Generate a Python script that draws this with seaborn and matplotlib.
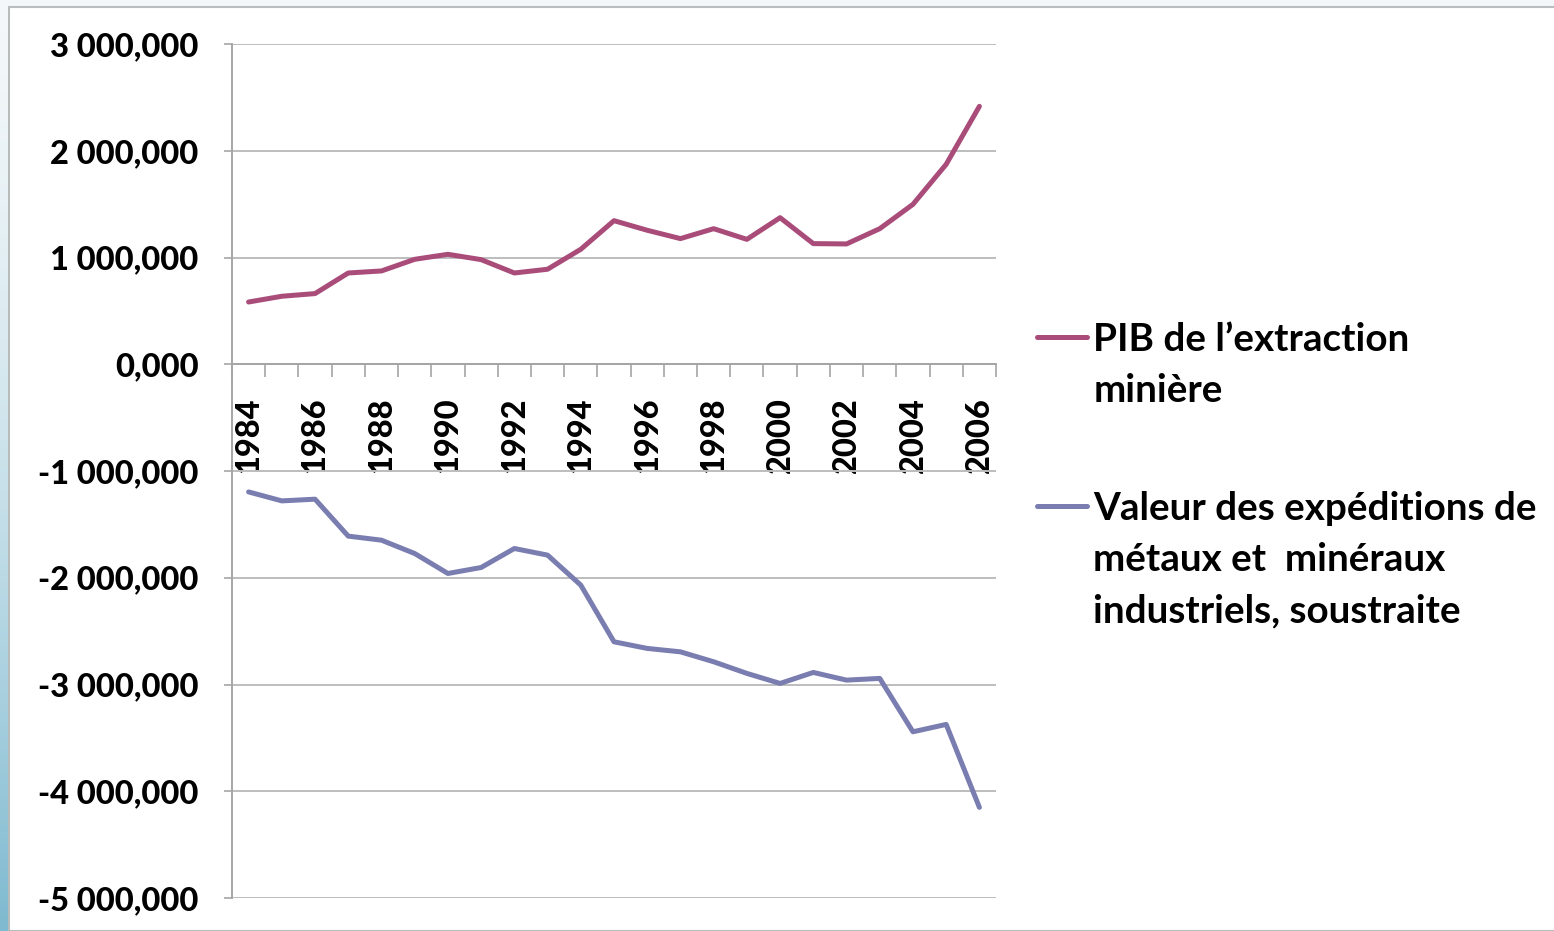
import numpy as np
import pandas as pd
import seaborn as sns
import matplotlib.pyplot as plt
from matplotlib.lines import Line2D
from matplotlib.patches import Rectangle
from matplotlib.ticker import FuncFormatter, MultipleLocator

sns.set_theme(style="white")
plt.rcParams['font.family'] = ['Lato', 'DejaVu Sans']
plt.rcParams['font.weight'] = 'bold'
plt.rcParams['text.color'] = 'black'

# data (values in thousands, French number format)
years = list(range(1984, 2007))
pib = [583, 637, 662, 855, 874, 983, 1030, 980, 855, 890, 1077, 1345,
       1255, 1177, 1270, 1170, 1373, 1130, 1127, 1270, 1498, 1873, 2416]
expeditions = [-1196, -1280, -1264, -1610, -1648, -1773, -1960, -1904, -1726,
               -1788, -2069, -2600, -2662, -2694, -2787, -2896, -2990, -2887,
               -2959, -2943, -3443, -3374, -4151]
label_pib = "PIB de l\u2019extraction\nminière"
label_exp = "Valeur des expéditions de\nmétaux et  minéraux\nindustriels, soustraite"
colors = ["#A94C7A", "#7A7DB0"]

df = pd.DataFrame({
    "annee": years * 2,
    "valeur": pib + expeditions,
    "serie": ["pib"] * len(years) + ["exp"] * len(years),
})

fig = plt.figure(figsize=(15.54, 9.31), dpi=100)
fig.patch.set_facecolor("#f3f7f9")
# slide background: white panel with thin border, gradient strip on left
fig.patches.append(Rectangle((9 / 1554, 0), 1.0, 1 - 7 / 931, transform=fig.transFigure,
                             facecolor="white", edgecolor="#b9bcbd", linewidth=1.5, zorder=-5))
strip = fig.add_axes([0, 0, 8 / 1554, 1 - 7 / 931])
grad = np.linspace(0, 1, 256).reshape(-1, 1) ** 1.5
strip.imshow(grad, aspect="auto", cmap=sns.blend_palette(["#f3f7f9", "#7fbad0"], as_cmap=True))
strip.axis("off")

ax = fig.add_axes([232 / 1554, 1 - 898 / 931, 764 / 1554, 854 / 931])
ax.set_facecolor("none")
sns.lineplot(data=df, x="annee", y="valeur", hue="serie", palette=colors,
             linewidth=3.6, legend=False, ax=ax)

ax.set_xlim(1983.5, 2006.5)
ax.set_ylim(-5000, 3000)
ax.yaxis.set_major_locator(MultipleLocator(1000))
ax.yaxis.set_major_formatter(FuncFormatter(
    lambda v, p: f"{v:,.3f}".replace(",", " ").replace(".", ",")))
ax.yaxis.grid(True, color="#bdbdbd", linewidth=1.4)
ax.set_axisbelow(True)

ax.set_xticks(years[::2])
ax.set_xticks(np.arange(1983.5, 2007, 1), minor=True)
ax.set_xticklabels([str(y) for y in years[::2]])

for s in ["top", "right"]:
    ax.spines[s].set_visible(False)
ax.spines["left"].set_color("#a6a6a6")
ax.spines["left"].set_linewidth(1.4)
ax.spines["bottom"].set_position(("data", 0))
ax.spines["bottom"].set_color("#a6a6a6")
ax.spines["bottom"].set_linewidth(1.4)

ax.tick_params(axis="y", left=True, length=6, width=1.2, color="#a6a6a6",
               pad=18, labelsize=23.5, labelcolor="black")
ax.tick_params(axis="x", which="major", bottom=True, length=0, pad=24,
               labelsize=23.5, labelrotation=90, labelcolor="black")
ax.tick_params(axis="x", which="minor", bottom=True, length=9, width=1.2,
               color="#a6a6a6", direction="out")
for t in ax.get_xticklabels() + ax.get_yticklabels():
    t.set_fontweight("black")
ax.set_xlabel("")
ax.set_ylabel("")


# legend, handle aligned with the first line of each label (Excel style)
def entry_handles(color, n):
    hs = [Line2D([], [], color=color, linewidth=3.6)]
    hs += [Line2D([], [], color="none")] * (n - 1)
    return hs


legend_kw = dict(frameon=False, handlelength=1.3, handletextpad=0.16,
                 labelspacing=0.42, borderpad=0, borderaxespad=0, loc="upper left",
                 labelcolor="black", bbox_transform=fig.transFigure,
                 prop={"weight": "bold", "size": 27.8})
lines1 = label_pib.split("\n")
leg1 = ax.legend(entry_handles(colors[0], len(lines1)), lines1,
                 bbox_to_anchor=(1037 / 1554, 1 - 322 / 931), **legend_kw)
ax.add_artist(leg1)
lines2 = label_exp.split("\n")
leg2 = ax.legend(entry_handles(colors[1], len(lines2)), lines2,
                 bbox_to_anchor=(1037 / 1554, 1 - 491 / 931), **legend_kw)

fig.savefig("out.png", dpi=100, facecolor=fig.get_facecolor())
